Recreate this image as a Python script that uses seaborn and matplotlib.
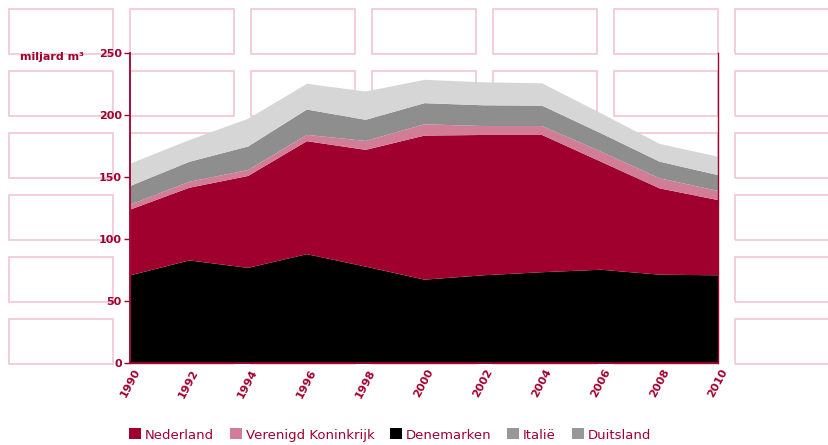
import matplotlib
matplotlib.use('Agg')
from matplotlib import pyplot as plt
from matplotlib.patches import Rectangle, Patch
import pandas as pd
import seaborn as sns

# -----------------------------------------------------------------------------
# Data (miljard m3)

years = [1990, 1992, 1994, 1996, 1998, 2000, 2002, 2004, 2006, 2008, 2010]
denemarken = [71, 83, 77, 88, 78, 67.5, 71, 73.5, 75.5, 71.5, 71]
nederland = [53, 58.5, 74, 91, 94, 116, 113, 110.5, 87, 69.5, 60.5]
verenigd_koninkrijk = [4, 4.8, 4.8, 5.1, 7.2, 9.1, 7.2, 7.2, 8.1, 8.1, 7.4]
italie = [15, 16.1, 18.9, 20.4, 17, 17, 16.7, 16.4, 14.8, 13.4, 12.7]
duitsland = [18, 17.5, 22.3, 20.7, 22.8, 18.8, 18.5, 18, 16.1, 14.3, 14.8]

legend_labels = ['Nederland', 'Verenigd Koninkrijk', 'Denemarken', 'Italië',
                 'Duitsland']

# -----------------------------------------------------------------------------

RED = '#a0002e'
PINK = '#d27d97'
DARK_GREY = '#8e8e8e'
LIGHT_GREY = '#d6d6d6'
BOX = '#f0c6d3'

sns.set_theme(style='white')
plt.rcParams['font.family'] = ['DejaVu Sans']

data = pd.DataFrame({'Denemarken': denemarken, 'Nederland': nederland,
                     'Verenigd Koninkrijk': verenigd_koninkrijk,
                     'Italië': italie, 'Duitsland': duitsland}, index=years)

W, H = 829, 445
figure = plt.figure(figsize=(W / 100, H / 100), dpi=100)

# background boxes (pixel coords from top-left)
for col_x in [9, 130, 251, 372, 493, 614, 735]:
    for row_y in [9, 71, 133, 195, 257, 319]:
        figure.patches.append(Rectangle(
            (col_x / W, 1 - (row_y + 45) / H), 104 / W, 45 / H,
            transform=figure.transFigure, fill=False, edgecolor=BOX,
            linewidth=1.2, zorder=-10))

ax = figure.add_axes([130 / W, 82 / H, 588 / W, 310.5 / H])
ax.set_zorder(5)
ax.patch.set_alpha(0)

ax.stackplot(data.index, data.T.values,
             colors=['black', RED, PINK, DARK_GREY, LIGHT_GREY],
             linewidth=0)

ax.set_xlim(1990, 2010)
ax.set_ylim(0, 250)
ax.set_xticks(years)
ax.set_xticklabels([str(y) for y in years], rotation=62, ha='center',
                   va='top', fontsize=8, fontweight='bold', color=RED)
ax.set_yticks(range(0, 251, 50))
ax.set_yticklabels([str(v) for v in range(0, 251, 50)], fontsize=8,
                   fontweight='bold', color=RED)
ax.tick_params(axis='y', left=True, length=4, width=1, color=RED, pad=2)
ax.tick_params(axis='x', bottom=True, length=0, pad=3)

for side in ['left', 'bottom', 'right']:
    ax.spines[side].set_visible(True)
    ax.spines[side].set_color(RED)
    ax.spines[side].set_linewidth(1.3)
ax.spines['top'].set_visible(False)
ax.spines['right'].set_linewidth(1.0)

figure.text(20 / W, 1 - 57 / H, 'miljard m³', fontsize=8,
            fontweight='bold', color=RED, va='center', ha='left')

handles = [Patch(facecolor=c, edgecolor='none')
           for c in [RED, PINK, 'black', '#989898', '#989898']]
legend = figure.legend(handles, legend_labels, loc='center left',
                       bbox_to_anchor=(117 / W, 1 - 435 / H), ncol=5,
                       frameon=False, fontsize=9.5, handlelength=0.9,
                       handleheight=0.9, handletextpad=0.3,
                       columnspacing=1.2)
for text in legend.get_texts():
    text.set_color(RED)

figure.savefig('out.png', dpi=100)
plt.close()
